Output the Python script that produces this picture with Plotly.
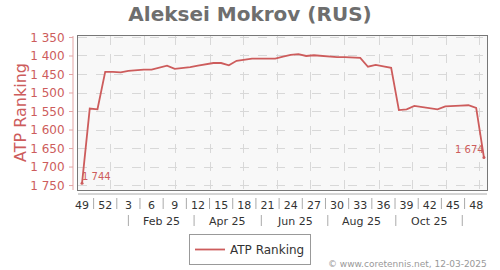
import plotly.graph_objects as go
from datetime import date

# ---------------- data ----------------
week_numbers = [49, 50, 51, 52, 1, 2, 3, 4, 5, 6, 7, 8, 9, 10, 11, 12, 13, 14, 15, 16,
                17, 18, 19, 20, 21, 22, 23, 24, 25, 26, 27, 28, 29, 30, 31, 32, 33, 34,
                35, 36, 37, 38, 39, 40, 41, 42, 43, 44, 45, 46, 47, 48, 49]
ranking = [1744, 1542, 1544, 1443, 1443, 1444, 1440, 1438, 1437, 1437, 1432, 1426,
           1435, 1433, 1430, 1426, 1422, 1419, 1419, 1425, 1413, 1410, 1407, 1407,
           1407, 1407, 1402, 1397, 1395, 1400, 1398, 1400, 1402, 1403, 1403, 1404,
           1405, 1429, 1424, 1428, 1432, 1546, 1544, 1535, 1538, 1541, 1544, 1536,
           1536, 1534, 1533, 1540, 1674]
y_ticks = [1350, 1400, 1450, 1500, 1550, 1600, 1650, 1700, 1750]
month_labels = ["Feb 25", "Apr 25", "Jun 25", "Aug 25", "Oct 25"]
month_band_edges = [6.0, 14.5, 23.2, 31.8, 40.6, 49.2]

RED = "#cd5c5c"
FONT = "DejaVu Sans"

x_idx = list(range(len(ranking)))
week_tick_idx = x_idx[::3]
week_tick_txt = [str(week_numbers[i]) for i in week_tick_idx]

# month grid positions (first day of each month), in week-index units
ref = date(2024, 12, 6)
month_grid = [(date(2025, m, 1) - ref).days / 7 for m in range(1, 13)]

fig = go.Figure()
fig.add_trace(go.Scatter(
    x=x_idx, y=ranking, mode="lines", name="ATP Ranking",
    line=dict(color=RED, width=1.8),
))
fig.add_trace(go.Scatter(
    x=[x_idx[0], x_idx[-1]], y=[ranking[0], ranking[-1]], mode="markers",
    marker=dict(color=RED, size=3), showlegend=False, hoverinfo="skip",
))

L, R, T, B = 78, 13, 36, 80
PW, PH = 500 - L - R, 270 - T - B

shapes = []
annotations = []
# endpoint labels
annotations.append(dict(text=f"{ranking[0]:,}".replace(",", " "), x=x_idx[0], y=ranking[0],
                        xref="x", yref="y", showarrow=False, xanchor="left",
                        yanchor="bottom", xshift=-2, yshift=-1,
                        font=dict(size=10, color=RED, family=FONT)))
annotations.append(dict(text=f"{ranking[-1]:,}".replace(",", " "), x=x_idx[-1], y=ranking[-1],
                        xref="x", yref="y", showarrow=False, xanchor="right",
                        yanchor="bottom", xshift=2, yshift=0,
                        font=dict(size=10, color=RED, family=FONT)))
# y axis line (offset)
shapes.append(dict(type="line", xref="paper", yref="paper", x0=-5 / PW, x1=-5 / PW,
                   y0=0, y1=1, line=dict(color="#e3a5a5", width=1)))
for v in y_ticks:
    shapes.append(dict(type="line", xref="paper", yref="y", x0=-9 / PW, x1=-5 / PW,
                       y0=v, y1=v, line=dict(color="#e3a5a5", width=1)))
# x axis line (offset)
shapes.append(dict(type="line", xref="paper", yref="paper", x0=0, x1=1,
                   y0=-4 / PH, y1=-4 / PH, line=dict(color="#aaaaaa", width=1)))
# separators between week labels
for i in range(len(week_tick_idx) - 1):
    xm = (week_tick_idx[i] + week_tick_idx[i + 1]) / 2
    shapes.append(dict(type="line", xref="x", yref="paper", x0=xm, x1=xm,
                       y0=-8 / PH, y1=-19 / PH, line=dict(color="#aaaaaa", width=1)))
# month band separators and labels
for e in month_band_edges:
    shapes.append(dict(type="line", xref="x", yref="paper", x0=e, x1=e,
                       y0=-25 / PH, y1=-36 / PH, line=dict(color="#aaaaaa", width=1)))
for i, lab in enumerate(month_labels):
    annotations.append(dict(text=lab, xref="x", yref="paper",
                            x=(month_band_edges[i] + month_band_edges[i + 1]) / 2,
                            y=-31 / PH, showarrow=False, xanchor="center", yanchor="middle",
                            font=dict(size=11, color="#333333", family=FONT)))
# y axis title
annotations.append(dict(text="ATP Ranking", xref="paper", yref="paper", x=(20 - L) / PW,
                        y=0.5, textangle=-90, showarrow=False, xanchor="center",
                        yanchor="middle", font=dict(size=16, color=RED, family=FONT)))
# credits
annotations.append(dict(text="© www.coretennis.net, 12-03-2025", xref="paper", yref="paper",
                        x=(489 - L) / PW, y=-(264 - 190) / PH, showarrow=False,
                        xanchor="right", yanchor="middle",
                        font=dict(size=9, color="#999999", family=FONT)))

fig.update_layout(
    width=500, height=270,
    margin=dict(l=L, r=R, t=T, b=B, autoexpand=False),
    paper_bgcolor="white", plot_bgcolor="#f8f8f8",
    separators=". ",
    font=dict(family=FONT),
    title=dict(text="<b>Aleksei Mokrov (RUS)</b>", x=0.5, xanchor="center",
               y=1 - 14 / 270, yanchor="middle",
               font=dict(size=20, color="#6e6e6e", family=FONT)),
    xaxis=dict(range=[-0.52, 52.4], tickvals=week_tick_idx, ticktext=week_tick_txt,
               showgrid=False, zeroline=False, showline=True, mirror=True,
               linecolor="#777777", linewidth=1,
               ticks="outside", ticklen=5, tickcolor="rgba(0,0,0,0)",
               tickfont=dict(size=11, color="#333333", family=FONT),
               minor=dict(tickvals=month_grid, showgrid=True, gridcolor="#d8d8d8",
                          griddash="dash", gridwidth=1, ticks="")),
    yaxis=dict(range=[1762, 1346], tickvals=y_ticks, tickformat=",d",
               showgrid=True, gridcolor="#d8d8d8", griddash="dash", gridwidth=1,
               zeroline=False, showline=True, mirror=True, linecolor="#777777",
               linewidth=1, ticks="", ticklabelstandoff=10,
               tickfont=dict(size=12, color=RED, family=FONT)),
    showlegend=True,
    legend=dict(orientation="h", x=(250 - L) / PW, xanchor="center",
                y=-(234 - 190) / PH, yanchor="top",
                bordercolor="#999999", borderwidth=1, bgcolor="white",
                font=dict(size=12, color="#333333", family=FONT)),
    shapes=shapes, annotations=annotations,
)

fig.write_html("out.html")
